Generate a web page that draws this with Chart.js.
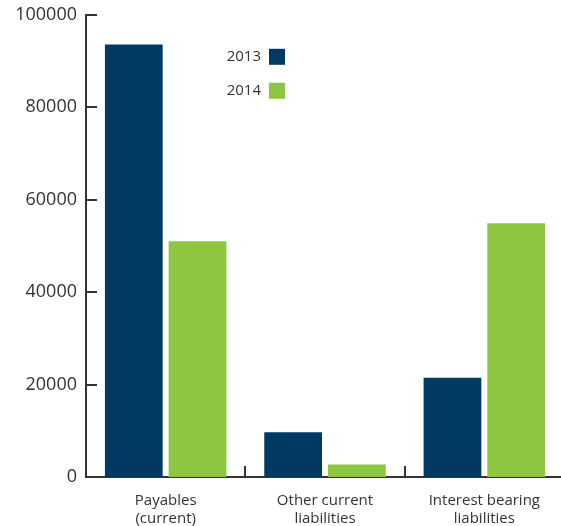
<!DOCTYPE html>
<html lang="en">
  <head>
    <meta charset="UTF-8" />
    <title>Liabilities</title>
    <style>
      html, body { margin: 0; padding: 0; background: #fff; overflow: hidden; }
      #wrap { width: 564px; height: 531px; margin-top: -5px; }
    </style>
  </head>
  <body>
    <div id="wrap"><canvas id="myChart"></canvas></div>
  </body>
  <script src="https://cdn.jsdelivr.net/npm/chart.js"></script>
  <script>
    var categories = [["Payables", "(current)"], ["Other current", "liabilities"], ["Interest bearing", "liabilities"]];
    var years = ["2013", "2014"];
    var values2013 = [93600, 9700, 21500];
    var values2014 = [51000, 2700, 54900];
    var yTicks = [0, 20000, 40000, 60000, 80000, 100000];

    var navy = "#003a63";
    var green = "#8dc63f";
    var ink = "#333333";
    var font = "'Open Sans', sans-serif";

    // short tick marks drawn inward, plus the legend next to the bars
    var innerTicks = {
      id: "innerTicks",
      afterDraw: function (chart) {
        var ctx = chart.ctx;
        var x = chart.scales.x, y = chart.scales.y;
        var area = chart.chartArea;
        ctx.save();
        ctx.strokeStyle = ink;
        ctx.lineWidth = 2;
        y.ticks.forEach(function (t) {
          var py = Math.round(y.getPixelForValue(t.value));
          if (t.value === 0) return;
          ctx.beginPath();
          ctx.moveTo(area.left, py);
          ctx.lineTo(area.left + 11, py);
          ctx.stroke();
        });
        for (var i = -0.5; i < categories.length; i++) {
          var px = Math.round(x.getPixelForValue(i));
          ctx.beginPath();
          ctx.moveTo(px, area.bottom);
          ctx.lineTo(px, area.bottom - 11);
          ctx.stroke();
        }
        // legend
        ctx.font = "15px " + font;
        ctx.textAlign = "right";
        ctx.textBaseline = "middle";
        chart.data.datasets.forEach(function (ds, k) {
          var top = area.top + 34 + k * 34;
          ctx.fillStyle = ds.backgroundColor;
          ctx.fillRect(area.left + 183, top, 16, 16);
          ctx.fillStyle = ink;
          ctx.fillText(ds.label, area.left + 175, top + 8);
        });
        ctx.restore();
      },
    };

    var config = {
      type: "bar",
      data: {
        labels: categories,
        datasets: [
          { label: years[0], data: values2013, backgroundColor: navy },
          { label: years[1], data: values2014, backgroundColor: green },
        ],
      },
      options: {
        responsive: true,
        maintainAspectRatio: false,
        animation: false,
        categoryPercentage: 0.8,
        barPercentage: 0.906,
        layout: { padding: { top: 4, right: 0, left: 0, bottom: 0 } },
        plugins: { legend: { display: false }, tooltip: { enabled: false } },
        scales: {
          x: {
            grid: { display: false, drawTicks: false },
            border: { display: true, color: ink, width: 2 },
            ticks: { color: ink, padding: 15, font: { family: font, size: 15 } },
            afterFit: function (s) { s.height = 49; },
          },
          y: {
            min: 0,
            max: 100000,
            afterBuildTicks: function (s) {
              s.ticks = yTicks.map(function (v) { return { value: v }; });
            },
            grid: { display: false, drawTicks: false },
            border: { display: true, color: ink, width: 2 },
            ticks: {
              color: ink,
              padding: 9,
              font: { family: font, size: 18 },
              callback: function (v) { return String(v); },
            },
            afterFit: function (s) { s.width = 86; },
          },
        },
      },
      plugins: [innerTicks],
    };

    var myChart = new Chart(document.getElementById("myChart"), config);
  </script>
</html>
